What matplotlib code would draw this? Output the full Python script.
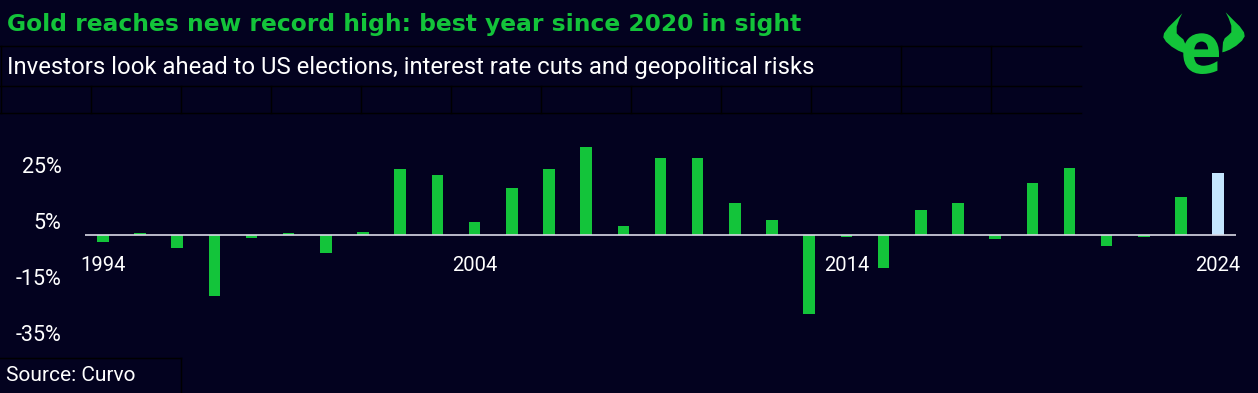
import numpy as np
import matplotlib
matplotlib.use('Agg')
import matplotlib.pyplot as plt
from matplotlib.patches import Polygon, PathPatch
from matplotlib.textpath import TextPath
from matplotlib.font_manager import FontProperties
from matplotlib.transforms import Affine2D

# yearly gold return, %
years = list(range(1994, 2025))
returns = [-2.4, 0.8, -4.5, -21.8, -0.8, 0.8, -6.3, 1.2, 23.7, 21.5,
           4.8, 16.9, 23.7, 31.5, 3.3, 27.6, 27.6, 11.5, 5.5, -28.0,
           -0.5, -11.5, 9.0, 11.5, -1.2, 18.7, 24.0, -3.7, -0.5, 13.7,
           22.3]
ytick_vals = [25, 5, -15, -35]
ytick_labels = ['25%', '5%', '-15%', '-35%']
year_labels = [1994, 2004, 2014, 2024]

title = 'Gold reaches new record high: best year since 2020 in sight'
subtitle = 'Investors look ahead to US elections, interest rate cuts and geopolitical risks'
source = 'Source: Curvo'

BG = '#03021f'
GREEN = '#13c43a'
BLUE = '#c5e6ff'
W, H = 1258, 393

plt.rcParams['font.family'] = ['Roboto', 'DejaVu Sans']

fig = plt.figure(figsize=(W / 100, H / 100), dpi=100, facecolor=BG)

# overlay in pixel coords for the layout lines, texts and logo
deco = fig.add_axes([0, 0, 1, 1], zorder=0)
deco.set_xlim(0, W)
deco.set_ylim(H, 0)
deco.axis('off')

line_kw = dict(color='#000000', lw=1.0)
for yy in [45.7, 86, 113.3]:
    deco.plot([0, 1081], [yy, yy], **line_kw)
deco.plot([1, 1], [45.7, 113.3], **line_kw)
for xx in [90.7, 180.7, 270.7, 360.7, 450.7, 540.7, 630.7, 720.7, 810.7]:
    deco.plot([xx, xx], [86, 113.3], **line_kw)
for xx in [900.7, 990.7]:
    deco.plot([xx, xx], [45.7, 113.3], **line_kw)
deco.plot([0, 181], [358, 358], **line_kw)
deco.plot([181, 181], [358, H], **line_kw)

deco.text(7, 31, title, color=GREEN, fontsize=16.85, fontweight='bold',
          family='DejaVu Sans', va='baseline', ha='left')
deco.text(7, 74, subtitle, color='white', fontsize=17.2, va='baseline', ha='left')
deco.text(6, 381, source, color='white', fontsize=15, va='baseline', ha='left')

# logo: horns + e
left_horn = [(1182.3, 13.3), (1175, 20.7), (1168.3, 27.3), (1164, 33.3), (1163.3, 37.3),
             (1166, 41.7), (1171.7, 46.7), (1178.3, 50.7), (1183.3, 52.7), (1185.7, 53.3),
             (1185, 43.3), (1183.3, 39.3), (1179.3, 36), (1176.7, 33.3), (1176.7, 26.7),
             (1179.3, 19.3)]
mid = 1204
right_horn = [(2 * mid - x, y - 1) for x, y in left_horn]
deco.add_patch(Polygon(left_horn, closed=True, color=GREEN, lw=0))
deco.add_patch(Polygon(right_horn, closed=True, color=GREEN, lw=0))

tp = TextPath((0, 0), 'e', size=100, prop=FontProperties(family='DejaVu Sans', weight='bold'))
ext = tp.get_extents()
sx = 35.7 / ext.width
sy = 40.7 / ext.height
tr = Affine2D().translate(-ext.x0, -ext.y0).scale(sx, -sy).translate(1183.3, 74)
deco.add_patch(PathPatch(tr.transform_path(tp), color=GREEN, lw=0))

# main chart
ax = fig.add_axes([85 / W, (H - 360) / H, (1236 - 85) / W, 250 / H], zorder=1)
ax.patch.set_alpha(0)
colors = [GREEN] * (len(years) - 1) + [BLUE]
ax.bar(years, returns, width=0.31, color=colors, zorder=2)
ax.axhline(0, color='#d9d9e6', lw=1.2, zorder=3)
ax.set_xlim(1993.52, 2024.48)
ax.set_ylim(-44.5, 44.7)
ax.set_yticks(ytick_vals)
ax.set_yticklabels(ytick_labels)
ax.set_xticks([])
ax.tick_params(axis='y', length=0, pad=17, labelsize=15.5, labelcolor='white')
for s in ax.spines.values():
    s.set_visible(False)

for yr in year_labels:
    ax.annotate(str(yr), (yr, 0), xytext=(0, -30), textcoords='offset pixels',
                ha='center', va='center', color='white', fontsize=14.5)

fig.savefig('out.png', dpi=100, facecolor=BG)
